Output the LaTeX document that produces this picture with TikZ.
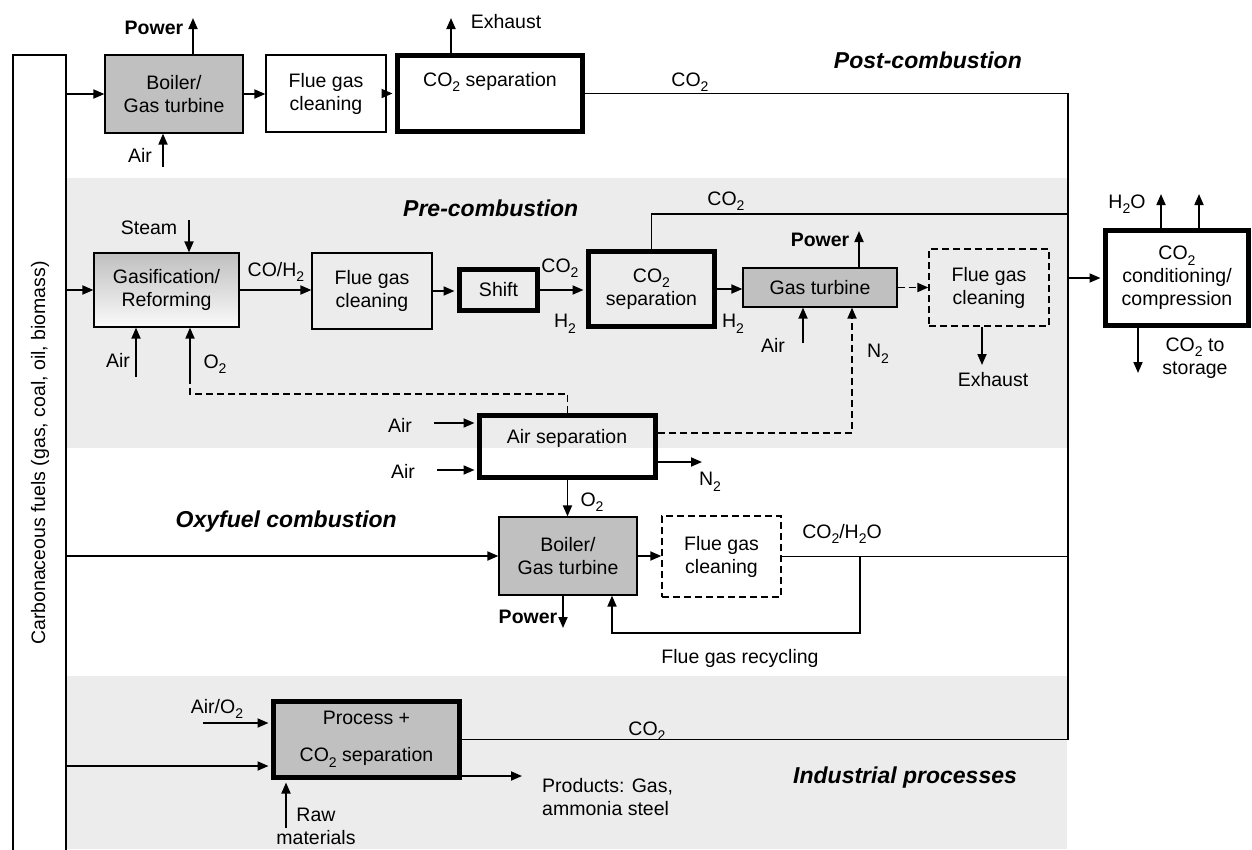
\documentclass[tikz,border=0pt]{standalone}
\usepackage{fontspec}
\setmainfont{Liberation Sans}
\usetikzlibrary{arrows.meta}
\definecolor{boxgray}{RGB}{192,192,192}
\definecolor{bandgray}{RGB}{236,236,236}
\newcommand\csub[1]{\raisebox{-0.28em}{\fontsize{14}{14}\selectfont #1}}
\newcommand\fsz{\fontsize{19.5}{23}\selectfont}
\begin{document}
\begin{tikzpicture}[x=1pt,y=-1pt,
  every node/.style={font=\fsz, inner sep=0pt, align=center},
  thinbox/.style={draw, line width=1.2pt},
  graybox/.style={draw, line width=1.2pt, fill=boxgray},
  shadebox/.style={draw, line width=1.2pt, top color=gray!50, bottom color=gray!4},
  thickbox/.style={draw, line width=5pt},
  dashbox/.style={draw, line width=1.3pt, dash pattern=on 7pt off 4pt},
  conn/.style={line width=1.8pt},
  arr/.style={conn, -{Triangle[length=11pt,width=9pt]}},
  arrT/.style={arr, shorten >=2.5pt},
  darr/.style={arr, dash pattern=on 7pt off 4pt},
  dline/.style={line width=1.6pt, dash pattern=on 7pt off 4pt},
  pw/.style={font=\fsz\bfseries},
  ttl/.style={font=\fontsize{23}{27}\selectfont\bfseries\itshape}
]
\useasboundingbox (0,0) rectangle (1252,849);
% background bands
\fill[bandgray] (67,178) rectangle (1068,448);
\fill[bandgray] (66,676) rectangle (1067,849);

% fuel column
\node[draw, line width=1.3pt, minimum width=53pt, minimum height=860pt] (leftbox) at (39.5,485) {};
\node[rotate=90] (fueltxt) at (40,453) {Carbonaceous fuels (gas, coal, oil, biomass)};

% boxes
\node[graybox, minimum width=138pt, minimum height=78pt] (boiler1) at (174,94) {Boiler/\\Gas turbine};
\node[thinbox, minimum width=120pt, minimum height=77pt] (flue1) at (326,93.5) {Flue gas\\cleaning};
\node[thickbox, minimum width=185pt, minimum height=76pt] (sep1) at (490,93.5) {};
\node (sep1t) at (490,82) {CO\csub{2} separation};

\node[shadebox, minimum width=145pt, minimum height=74pt] (gasif) at (166.5,290) {Gasification/\\Reforming};
\node[thinbox, minimum width=120pt, minimum height=76pt] (flue2) at (372,291) {Flue gas\\cleaning};
\node[thickbox, minimum width=78pt, minimum height=41pt] (shift) at (498.5,290) {Shift};
\node[thickbox, minimum width=126pt, minimum height=75pt] (sep2) at (651.5,289) {CO\csub{2}\\separation};
\node[graybox, minimum width=154pt, minimum height=39pt] (gt) at (820,287.5) {Gas turbine};
\node[dashbox, minimum width=120pt, minimum height=77pt] (flue3) at (989,287.5) {Flue gas\\cleaning};
\node[thickbox, minimum width=143pt, minimum height=95pt] (cond) at (1177,278) {CO\csub{2}\\conditioning/\\compression};

\node[thickbox, minimum width=176pt, minimum height=62pt] (asu) at (567.5,446.5) {};
\node (asut) at (567,438) {Air separation};
\node[graybox, minimum width=138pt, minimum height=78pt] (boiler2) at (568,556) {Boiler/\\Gas turbine};
\node[dashbox, minimum width=119pt, minimum height=81pt] (flue4) at (721.5,556.5) {Flue gas\\cleaning};

\node[thickbox, fill=boxgray, minimum width=186pt, minimum height=76pt] (proc) at (366.5,739.5) {Process +\\[14pt]CO\csub{2} separation};

% free ends
\coordinate (cx) at (1068,0);
\coordinate (pw1) at (193,18);
\coordinate (air1) at (163,167);
\coordinate (exh1) at (451,18);
\coordinate (steam) at (189,220);
\coordinate (air2) at (136,377);
\coordinate (o2s) at (190,377);
\coordinate (o2c) at (190,394);
\coordinate (cpre) at (1068,214);
\coordinate (pw2) at (859,231);
\coordinate (air3) at (803,343);
\coordinate (n2c) at (852,433);
\coordinate (exh2) at (982,365);
\coordinate (h2oa) at (1161,194);
\coordinate (h2ob) at (1199,194);
\coordinate (sto) at (1138,373);
\coordinate (aira) at (434,423);
\coordinate (airb) at (437,470);
\coordinate (n2o) at (702,462);
\coordinate (pw3) at (563,628);
\coordinate (rc) at (860,633);
\coordinate (rcx) at (612,633);
\coordinate (airo) at (203,723);
\coordinate (p4) at (271,766);
\coordinate (prod) at (522,776);
\coordinate (raw) at (286,828);

% post-combustion
\draw[arr] (leftbox.east |- boiler1) -- (boiler1.west);
\draw[arr] (pw1 |- boiler1.north) -- (pw1);
\draw[arr] (air1) -- (air1 |- boiler1.south);
\draw[arr] (boiler1.east) -- (flue1.west |- boiler1.east);
\draw[arrT] (flue1.east) -- (sep1.west |- flue1.east);
\draw[arr] (exh1 |- sep1.north) -- (exh1);
\draw[conn] (sep1.east) -- (cx |- sep1.east) -- (cx |- proc.east);
\draw[conn] (proc.east) -- (cx |- proc.east);

% pre-combustion
\draw[arr] (leftbox.east |- gasif) -- (gasif.west);
\draw[arr] (steam) -- (steam |- gasif.north);
\draw[arr] (air2) -- (air2 |- gasif.south);
\draw[dline] (asu.north) |- (o2c) -- (o2s);
\draw[arr] (o2s) -- (o2s |- gasif.south);
\draw[arr] (gasif.east) -- (flue2.west |- gasif.east);
\draw[arrT] (flue2.east) -- (shift.west |- flue2.east);
\draw[arrT] (shift.east) -- (sep2.west |- shift.east);
\draw[conn] (sep2.north) |- (cpre);
\draw[arr] (sep2.east) -- (gt.west |- sep2.east);
\draw[arr] (pw2 |- gt.north) -- (pw2);
\draw[arr] (air3) -- (air3 |- gt.south);
\draw[darr] (asu.east |- n2c) -- (n2c) -- (n2c |- gt.south);
\draw[darr] (gt.east) -- (flue3.west |- gt.east);
\draw[arr] (exh2 |- flue3.south) -- (exh2);

% conditioning
\draw[arrT] (cx |- cond.west) -- (cond.west);
\draw[arr] (h2oa |- cond.north) -- (h2oa);
\draw[arr] (h2ob |- cond.north) -- (h2ob);
\draw[arr] (sto |- cond.south) -- (sto);

% air separation
\draw[arrT] (aira) -- (aira -| asu.west);
\draw[arrT] (airb) -- (airb -| asu.west);
\draw[arr] (asu.east |- n2o) -- (n2o);
\draw[arr] (asu.south) -- (asu.south |- boiler2.north);

% oxyfuel
\draw[arr] (leftbox.east |- boiler2) -- (boiler2.west);
\draw[arr] (pw3 |- boiler2.south) -- (pw3);
\draw[arr] (boiler2.east) -- (flue4.west |- boiler2.east);
\draw[conn] (flue4.east) -- (cx |- flue4.east);
\draw[arr] (rc |- flue4.east) -- (rc) -- (rcx) -- (rcx |- boiler2.south);

% industrial
\draw[arrT] (airo) -- (airo -| proc.west);
\draw[arrT] (leftbox.east |- p4) -- (p4 -| proc.west);
\draw[arr] (proc.east |- prod) -- (prod);
\draw[arrT] (raw) -- (raw |- proc.south);

% labels
\node[pw] (lpw1) at (154,28) {Power};
\node (lair1) at (140,155) {Air};
\node (lexh1) at (506,22) {Exhaust};
\node (lco2a) at (690,82) {CO\csub{2}};
\node[ttl, anchor=east] (tpost) at (1022,60) {Post-combustion};
\node (lsteam) at (149,228) {Steam};
\node (lair2) at (118,360) {Air};
\node (lo2a) at (215,364) {O\csub{2}};
\node (lcoh) at (276,272) {CO/H\csub{2}};
\node[ttl, anchor=west] (tpre) at (403,208) {Pre-combustion};
\node (lco2b) at (560,268) {CO\csub{2}};
\node (lh2a) at (565,324) {H\csub{2}};
\node (lco2c) at (726,201) {CO\csub{2}};
\node (lh2b) at (733,324) {H\csub{2}};
\node[pw] (lpw2) at (820,240) {Power};
\node (lair3) at (773,345) {Air};
\node (ln2a) at (878,354) {N\csub{2}};
\node (lexh2) at (993,380) {Exhaust};
\node (lh2o) at (1127,204) {H\csub{2}O};
\node (lsto) at (1195,358) {CO\csub{2} to\\storage};
\node (laira) at (400,425) {Air};
\node (lairb) at (403,471) {Air};
\node (ln2b) at (710,482) {N\csub{2}};
\node (lo2b) at (592,502) {O\csub{2}};
\node[ttl, anchor=east] (toxy) at (397,522) {Oxyfuel combustion};
\node[pw] (lpw3) at (528,617) {Power};
\node (lcoh2o) at (842,534) {CO\csub{2}/H\csub{2}O};
\node (lrec) at (740,658) {Flue gas recycling};
\node (lairo) at (217,709) {Air/O\csub{2}};
\node (lco2d) at (647,731) {CO\csub{2}};
\node[anchor=west, align=left] (lprod) at (542,797) {Products: Gas,\\ammonia steel};
\node (lraw) at (316,826) {Raw\\materials};
\node[ttl, anchor=west] (tind) at (793,778) {Industrial processes};
\end{tikzpicture}
\end{document}
